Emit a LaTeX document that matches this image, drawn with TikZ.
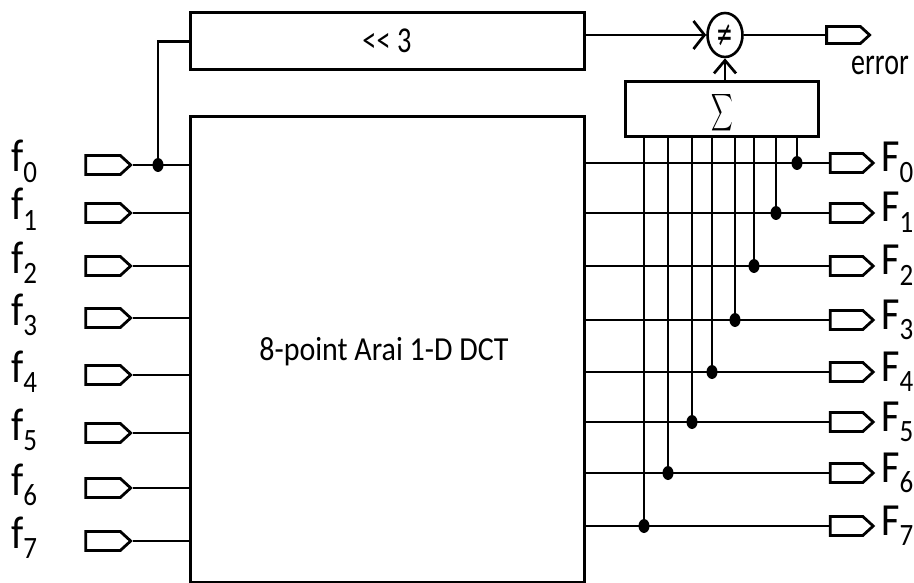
\documentclass[tikz,border=0pt]{standalone}
\usepackage{fontspec}
\setmainfont{Carlito}
\newfontfamily\djv{DejaVu Sans}
\usetikzlibrary{shapes.geometric,shapes.symbols,arrows.meta}
\newcommand\sigl[2]{\scalebox{1}[1.15]{\fontsize{40}{40}\selectfont #1\raisebox{-0.22em}{\fontsize{27}{27}\selectfont #2}}}
\begin{document}
\begin{tikzpicture}[x=1pt,y=-1pt,
  wire/.style={line width=2.7pt},
  blk/.style={draw, line width=3pt, inner sep=0, rectangle},
  port/.style={draw, line width=2.8pt, signal, signal to=east, signal pointer angle=85,
     inner sep=0, minimum width=#1, minimum height=19pt},
  port/.default=45pt,
  jdot/.style={ellipse, fill, inner sep=0, minimum width=11pt, minimum height=14pt},
  lbl/.style={inner sep=0, anchor=base west},
  barbA/.style={-{Straight Barb[length=11pt,width=28pt]}},
  barbB/.style={-{Straight Barb[length=13pt,width=22pt]}}
]
\useasboundingbox (0,0) rectangle (914,583);
% blocks
\node[blk, minimum width=394pt, minimum height=57pt] (shift) at (387,41.5) {};
\node[inner sep=0, anchor=base] (shifttxt) at (387,53) {\scalebox{1.05}[1.35]{\fontsize{27}{27}\selectfont <{}< 3}};
\node[blk, minimum width=394pt, minimum height=465pt] (dct) at (387,349.5) {};
\node[inner sep=0, anchor=base] (dcttxt) at (384,360) {\scalebox{1}[1.12]{\fontsize{30}{30}\selectfont 8-point Arai 1-D DCT}};
\node[blk, minimum width=193pt, minimum height=55pt] (sum) at (721.5,109.5) {};
\node[inner sep=0] (sumtxt) at (722,113) {\scalebox{1.5}[2.6]{$\displaystyle\sum$}};
\node[ellipse, draw, line width=2.6pt, inner sep=0, minimum width=35pt, minimum height=44pt] (neq) at (725,35) {};
\node[inner sep=0] (neqtxt) at (725,36) {\scalebox{1}[1.8]{\fontsize{20}{20}\djv ≠}};
% error output
\node[port=43pt, minimum height=17pt] (err) at (843.5,35) {};
\node[inner sep=0, anchor=base] (errtxt) at (880,75) {\scalebox{1}[1.35]{\fontsize{28}{28}\selectfont error}};
\draw[wire, barbA] (shift.east |- neq.west) -- (neq.west);
\draw[wire, barbB] (sum.north -| neq.south) -- (neq.south);
\draw[wire] (neq.east) -- (err.west);
% inputs
\foreach \i/\y in {0/165,1/213,2/266,3/318,4/375,5/433,6/488,7/541}{
  \node[port] (in\i) at (103,\y) {};
  \node[lbl] (inl\i) at (11,\y+7) {\sigl{f}{\i}};
  \draw[wire] (in\i.east) -- (in\i.east -| dct.west);
}
\node[jdot] (tap) at (158,165) {};
\draw[wire] (tap.center) |- (shift.west);
% outputs
\foreach \i/\y/\x in {0/163/797,1/213/776,2/266/754,3/320/735,4/372/712,5/422/692,6/473/668,7/526/644}{
  \node[port=43pt] (out\i) at (846.5,\y) {};
  \node[lbl] (outl\i) at (881,\y+9) {\sigl{F}{\i}};
  \draw[wire] (dct.east |- out\i.west) -- (out\i.west);
  \node[jdot] (d\i) at (\x,\y) {};
  \draw[wire] (d\i.center) -- (d\i.center |- sum.south);
}
\end{tikzpicture}
\end{document}
